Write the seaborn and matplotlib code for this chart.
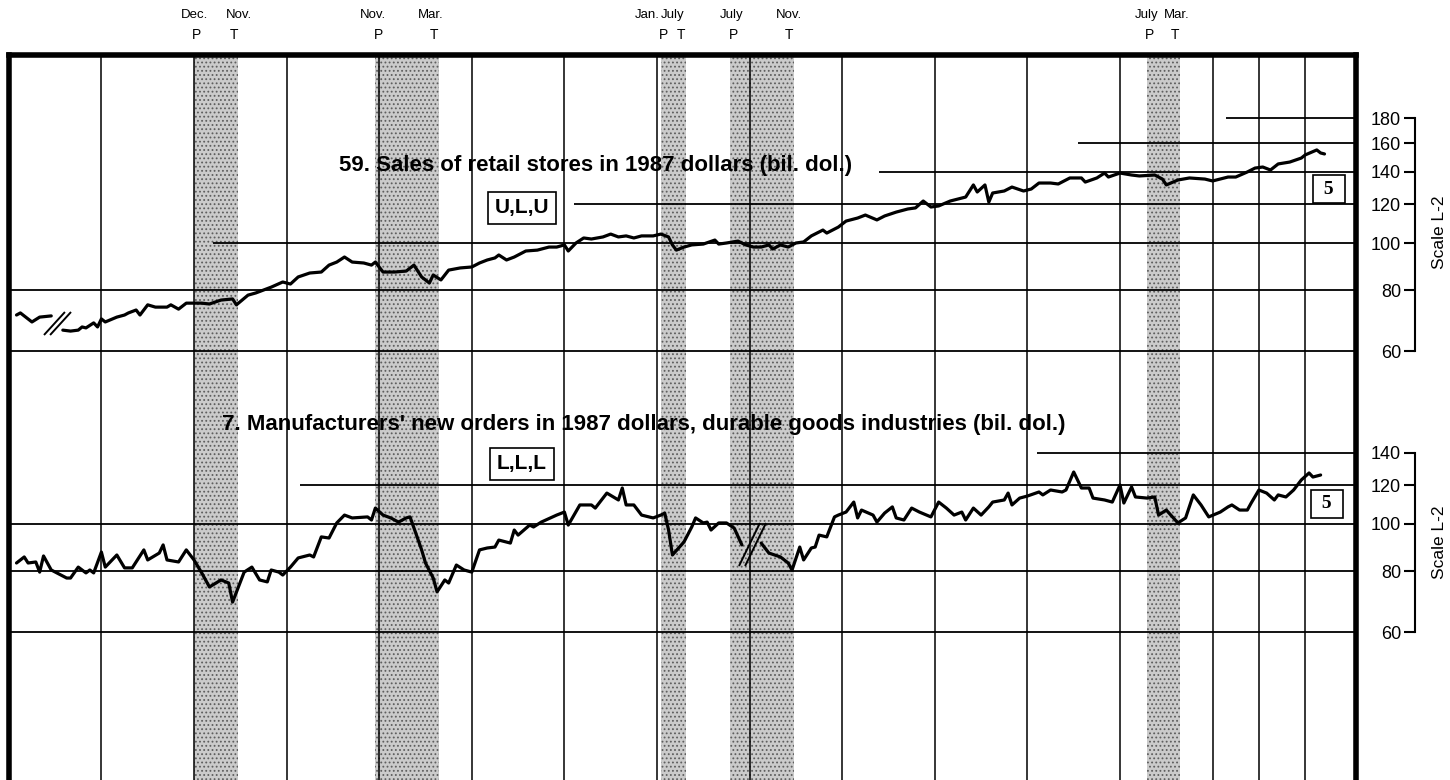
import numpy as np
import pandas as pd
import matplotlib
matplotlib.use("Agg")
import matplotlib.pyplot as plt
from matplotlib.path import Path
from matplotlib.transforms import blended_transform_factory
from matplotlib.ticker import FixedLocator, NullLocator, FixedFormatter
import seaborn as sns

# --- series 59: sales of retail stores, 1987 dollars (bil. dol.) ---
retail_dates = [
    "1966-03", "1966-04", "1966-07", "1966-09", "1966-12",
    "1967-03", "1967-05", "1967-07", "1967-08", "1967-09", "1967-11", "1967-12",
    "1968-01", "1968-02", "1968-05", "1968-07", "1968-08", "1968-10", "1968-11",
    "1969-01", "1969-03", "1969-06", "1969-07", "1969-09", "1969-11",
    "1970-03", "1970-05", "1970-08", "1970-11", "1970-12",
    "1971-03", "1971-05", "1971-07", "1971-09", "1971-12",
    "1972-02", "1972-04", "1972-07", "1972-10", "1972-12",
    "1973-02", "1973-04", "1973-06", "1973-09", "1973-11", "1973-12",
    "1974-02", "1974-05", "1974-08", "1974-10", "1974-12",
    "1975-02", "1975-03", "1975-05", "1975-07", "1975-10",
    "1976-01", "1976-03", "1976-05", "1976-07", "1976-08", "1976-10", "1976-12",
    "1977-02", "1977-03", "1977-06", "1977-09", "1977-11",
    "1978-01", "1978-02", "1978-04", "1978-06", "1978-08", "1978-11",
    "1979-01", "1979-03", "1979-05", "1979-07", "1979-09", "1979-12",
    "1980-02", "1980-04", "1980-05", "1980-06", "1980-08", "1980-10",
    "1981-01", "1981-04", "1981-05", "1981-07", "1981-10", "1981-12",
    "1982-02", "1982-04", "1982-06", "1982-07", "1982-09", "1982-11",
    "1983-01", "1983-03", "1983-05", "1983-08", "1983-09", "1983-12",
    "1984-02", "1984-05", "1984-07", "1984-10", "1984-12",
    "1985-03", "1985-06", "1985-08", "1985-10", "1985-12",
    "1986-02", "1986-05", "1986-08", "1986-09", "1986-11", "1986-12",
    "1987-02", "1987-03", "1987-04", "1987-07", "1987-09", "1987-12",
    "1988-02", "1988-04", "1988-07", "1988-09", "1988-12",
    "1989-03", "1989-04", "1989-07", "1989-09", "1989-10",
    "1990-01", "1990-04", "1990-06", "1990-10", "1990-12",
    "1991-01", "1991-04", "1991-07", "1991-11",
    "1992-01", "1992-05", "1992-07", "1992-10", "1992-12",
    "1993-02", "1993-04", "1993-06", "1993-09", "1993-12",
    "1994-01", "1994-04", "1994-05", "1994-06",
]
retail_values = [
    71.2, 71.9, 68.9, 70.5, 70.9,
    66.3, 66.0, 66.3, 67.3, 67.0, 68.6, 67.3,
    69.9, 68.9, 70.5, 71.2, 71.9, 72.9, 71.2,
    74.7, 73.9, 73.9, 74.7, 73.2, 75.3,
    75.3, 75.0, 76.4, 76.8, 74.7,
    78.2, 79.0, 80.1, 81.2, 83.2,
    82.4, 85.2, 86.8, 87.2, 90.1,
    91.4, 93.6, 91.4, 91.0, 90.1, 91.4,
    87.2, 87.2, 87.6, 90.1, 85.2,
    82.8, 86.0, 84.0, 88.0, 88.9,
    89.3, 91.0, 92.3, 93.2, 94.5, 92.3, 93.6,
    95.4, 96.3, 96.7, 98.1, 98.1,
    99.1, 96.3, 100.0, 102.4, 101.9, 102.9,
    104.3, 102.9, 103.4, 102.4, 103.4, 103.4,
    104.3, 102.9, 99.1, 96.7, 98.1, 99.1,
    99.5, 101.4, 99.5, 100.0, 100.9, 99.1,
    98.1, 98.1, 99.1, 97.2, 99.1, 98.1,
    100.0, 100.5, 103.4, 106.3, 104.8, 107.8,
    110.9, 112.5, 114.1, 111.5, 113.6,
    115.7, 117.4, 118.0, 121.9, 118.5,
    119.1, 121.9, 123.6, 124.2, 131.5, 127.2,
    131.5, 121.3, 126.6, 127.8, 130.2, 127.8,
    129.0, 132.7, 132.7, 132.1, 135.9,
    135.9, 133.3, 135.9, 139.1, 136.5,
    139.1, 137.8, 137.2, 137.8, 135.2,
    131.5, 134.6, 135.9, 135.2,
    134.0, 136.5, 136.5, 139.8, 142.4,
    143.1, 141.1, 145.2, 146.5, 149.3,
    151.5, 155.1, 152.9, 152.2,
]
retail_break = "1967-03"   # first month after the series break

# --- series 7: manufacturers' new orders, durable goods, 1987 dollars ---
orders_dates = [
    "1966-03", "1966-05", "1966-06", "1966-08", "1966-09", "1966-10", "1966-12",
    "1967-04", "1967-05", "1967-07", "1967-09", "1967-10", "1967-11",
    "1968-01", "1968-02", "1968-05", "1968-07", "1968-09", "1968-12",
    "1969-01", "1969-04", "1969-05", "1969-06", "1969-09", "1969-11",
    "1970-01", "1970-03", "1970-05", "1970-08", "1970-10", "1970-11",
    "1971-02", "1971-04", "1971-06", "1971-08", "1971-09", "1971-11", "1971-12",
    "1972-02", "1972-04", "1972-07", "1972-08", "1972-10", "1972-12",
    "1973-02", "1973-04", "1973-06", "1973-10", "1973-11", "1973-12",
    "1974-02", "1974-04", "1974-06", "1974-08", "1974-09", "1974-12",
    "1975-01", "1975-03", "1975-04", "1975-06", "1975-07", "1975-09", "1975-11",
    "1976-01", "1976-03", "1976-05", "1976-07", "1976-08", "1976-11", "1976-12",
    "1977-01", "1977-04", "1977-05", "1977-07", "1977-11",
    "1978-01", "1978-02", "1978-05", "1978-08", "1978-09", "1978-12",
    "1979-03", "1979-04", "1979-05", "1979-07", "1979-09", "1979-12",
    "1980-02", "1980-03", "1980-04", "1980-05", "1980-08", "1980-10", "1980-11",
    "1981-01", "1981-02", "1981-03", "1981-05", "1981-07", "1981-09", "1981-11",
    "1982-04", "1982-06", "1982-09", "1982-11", "1982-12",
    "1983-02", "1983-03", "1983-05", "1983-06", "1983-07", "1983-09", "1983-11", "1983-12",
    "1984-02", "1984-04", "1984-05", "1984-06", "1984-09", "1984-10", "1984-12",
    "1985-02", "1985-03", "1985-05", "1985-07", "1985-09", "1985-12",
    "1986-02", "1986-04", "1986-06", "1986-08", "1986-09", "1986-11",
    "1987-01", "1987-03", "1987-04", "1987-07", "1987-08", "1987-09", "1987-11",
    "1988-01", "1988-04", "1988-05", "1988-07", "1988-10", "1988-11",
    "1989-01", "1989-03", "1989-05", "1989-06", "1989-09", "1989-11",
    "1990-01", "1990-02", "1990-04", "1990-05", "1990-08", "1990-10", "1990-11",
    "1991-01", "1991-04", "1991-06", "1991-08", "1991-10", "1991-12",
    "1992-03", "1992-05", "1992-06", "1992-08", "1992-10", "1992-11",
    "1993-01", "1993-03", "1993-05", "1993-06", "1993-08", "1993-10", "1993-12",
    "1994-02", "1994-03", "1994-05",
]
orders_values = [
    83.2, 85.6, 83.2, 83.6, 79.7, 86.0, 80.5,
    77.5, 77.5, 81.6, 79.4, 80.5, 79.4,
    87.6, 81.6, 86.4, 81.3, 81.3, 88.5,
    84.4, 87.2, 90.6, 84.4, 83.6, 88.5,
    84.4, 79.4, 74.3, 76.8, 75.7, 69.2,
    79.7, 81.6, 76.8, 76.1, 80.5, 79.7, 78.6,
    81.6, 85.2, 86.4, 85.6, 94.1, 93.6,
    100.5, 104.3, 102.9, 103.4, 101.9, 107.8,
    104.3, 102.9, 100.9, 102.9, 103.4, 88.5,
    83.2, 77.5, 72.6, 76.8, 75.7, 82.4, 80.5,
    79.7, 88.5, 89.3, 89.7, 92.7, 91.4, 97.2,
    94.9, 99.5, 98.6, 100.9, 104.3,
    105.8, 99.5, 109.4, 109.4, 107.8, 115.7,
    112.0, 118.5, 109.4, 109.4, 104.3, 102.9,
    104.3, 105.3, 97.2, 86.4, 91.9, 98.6, 102.9,
    100.5, 100.9, 97.2, 100.5, 100.5, 98.1, 90.6,
    91.4, 87.2, 85.6, 83.2, 80.5,
    89.7, 84.4, 89.3, 89.7, 94.9, 94.1, 103.4, 104.3,
    105.8, 110.9, 102.9, 106.8, 104.3, 100.9, 105.3,
    108.4, 102.9, 101.9, 107.8, 105.8, 103.4,
    110.9, 107.8, 104.3, 105.8, 101.9, 107.8,
    104.3, 108.4, 110.9, 112.0, 115.7, 109.4, 113.0,
    114.1, 116.3, 114.7, 117.4, 116.3, 117.4,
    127.8, 118.5, 118.5, 113.0, 112.0, 110.9,
    120.2, 110.4, 119.1, 113.6, 113.0, 113.6, 104.3,
    106.8, 100.5, 102.9, 114.7, 109.4, 103.4,
    105.8, 108.4, 109.4, 106.8, 106.8, 110.4,
    117.4, 115.7, 112.0, 114.7, 113.6, 117.4, 123.1,
    127.2, 124.8, 126.0,
]
orders_break = "1982-04"

# business cycle peaks (P) and troughs (T)
peaks = ["1969-12", "1973-11", "1980-01", "1981-07", "1990-07"]
troughs = ["1970-11", "1975-03", "1980-07", "1982-11", "1991-03"]
peak_names = ["Dec.", "Nov.", "Jan.", "July", "July"]
trough_names = ["Nov.", "Mar.", "July", "Nov.", "Mar."]

year_lines = [1968, 1970, 1972, 1974, 1976, 1978, 1980, 1982, 1984,
              1986, 1988, 1990, 1992, 1993, 1994]

retail_ticks = [60, 80, 100, 120, 140, 160, 180]
retail_grid_from = [1966, 1966, 1970.4, 1978.2, 1984.8, 1989.1, 1992.3]
orders_ticks = [60, 80, 100, 120, 140]
orders_grid_from = [1966, 1966, 1966, 1972.3, 1988.2]


def to_year(s):
    y, m = s.split("-")
    return int(y) + (int(m) - 1) / 12


def series_frame(dates, values, brk):
    df = pd.DataFrame({"t": [to_year(d) for d in dates], "v": values})
    df["seg"] = (df["t"] >= to_year(brk)).astype(int)
    return df


retail = series_frame(retail_dates, retail_values, retail_break)
orders = series_frame(orders_dates, orders_values, orders_break)

# layout (pixels of a 1450x780 canvas)
W, H = 1450, 780
X0, X1 = 1966.0, 1995.1
PX_YEAR = 46.3
left_px = 194 - (1970 - X0) * PX_YEAR
right_px = 194 + (X1 - 1970) * PX_YEAR
TOP_PX = 55
PX_LN = 212.0
# small horizontal shifts (px) of month names so neighbours do not collide
peak_nudge_px = [-2, -5, -16, -1, -3]
trough_nudge_px = [5, -4, -9, 0, 2]


def ylims(y100):
    return (100 * np.exp((y100 - H) / PX_LN), 100 * np.exp((y100 - TOP_PX) / PX_LN))


sns.set_style("white")
plt.rcParams["font.family"] = ["Liberation Sans", "DejaVu Sans"]
plt.rcParams["text.color"] = "black"
plt.rcParams["ytick.color"] = "black"
plt.rcParams["hatch.linewidth"] = 0.8

fig = plt.figure(figsize=(W / 100, H / 100), dpi=100)
rect = [left_px / W, 0, (right_px - left_px) / W, (H - TOP_PX) / H]

# frame, recession shading, year lines
fr = fig.add_axes(rect)
fr.set_xlim(X0, X1)
fr.set_ylim(0, 1)
fr.set_xticks([])
fr.set_yticks([])
for side in ["left", "top", "right"]:
    fr.spines[side].set_linewidth(4)
    fr.spines[side].set_color("black")
fr.spines["bottom"].set_visible(False)
for p, t in zip(peaks, troughs):
    fr.axvspan(to_year(p) + 1 / 12, to_year(t) + 1 / 8, facecolor="#cbcbcb",
               edgecolor="#5e5e5e", hatch="....", lw=0, zorder=0)
for yr in year_lines:
    fr.axvline(yr, color="black", lw=1.1, zorder=1)

# recession labels above the frame
tr = blended_transform_factory(fr.transData, fig.transFigure)
for p, t, pn, tn, pnd, tnd in zip(peaks, troughs, peak_names, trough_names,
                                  peak_nudge_px, trough_nudge_px):
    xp = to_year(p) + 1 / 12 + 0.06
    xt = to_year(t) + 1 / 8 - 0.1
    fr.text(xp + pnd / PX_YEAR, 1 - 15 / H, pn, transform=tr, ha="center", va="center", fontsize=9.5)
    fr.text(xt + tnd / PX_YEAR, 1 - 15 / H, tn, transform=tr, ha="center", va="center", fontsize=9.5)
    fr.text(xp, 1 - 35 / H, "P", transform=tr, ha="center", va="center", fontsize=10)
    fr.text(xt, 1 - 35 / H, "T", transform=tr, ha="center", va="center", fontsize=10)


def break_mark(h):
    w = 13.5
    verts = [(-w, -h), (w * 0.55, h), (-w * 0.55, -h), (w, h)]
    codes = [Path.MOVETO, Path.LINETO, Path.MOVETO, Path.LINETO]
    return Path(verts, codes)


def draw_panel(df, y100, ticks, grid_from, mark_h, scale_label_y):
    ax = fig.add_axes(rect)
    ax.set_yscale("log")
    ax.set_xlim(X0, X1)
    ax.set_ylim(*ylims(y100))
    for v, x0 in zip(ticks, grid_from):
        ax.hlines(v, x0, X1, color="black", lw=1.3, zorder=1)
    sns.lineplot(data=df, x="t", y="v", units="seg", estimator=None,
                 color="black", lw=2.3, ax=ax, legend=False, zorder=3)
    pre = df[df["seg"] == 0].iloc[-1]
    post = df[df["seg"] == 1].iloc[0]
    ax.plot([(pre.t + post.t) / 2], [np.sqrt(pre.v * post.v)],
            marker=break_mark(mark_h), ms=2 * max(13.5, mark_h) * 0.72,
            mfc="none", mec="black", mew=1.4, ls="none", zorder=4)
    ax.set_axis_off()

    sc = fig.add_axes([1415 / W, 0, 0.0005, (H - TOP_PX) / H])
    sc.set_yscale("log")
    sc.set_ylim(*ylims(y100))
    for side in ["top", "bottom", "right"]:
        sc.spines[side].set_visible(False)
    sc.spines["left"].set_bounds(ticks[0], ticks[-1])
    sc.spines["left"].set_linewidth(1.5)
    sc.spines["left"].set_color("black")
    sc.patch.set_alpha(0)
    sc.set_xticks([])
    sc.yaxis.set_major_locator(FixedLocator(ticks))
    sc.yaxis.set_major_formatter(FixedFormatter([str(t) for t in ticks]))
    sc.yaxis.set_minor_locator(NullLocator())
    sc.tick_params(axis="y", direction="out", length=8, width=1.5,
                   labelsize=13, pad=2, left=True, labelleft=True)
    fig.text(1440 / W, 1 - scale_label_y / H, "Scale L-2", rotation=90,
             ha="center", va="center", fontsize=12.5)
    return ax


draw_panel(retail, 243, retail_ticks, retail_grid_from, 11.5, 232)
draw_panel(orders, 524, orders_ticks, orders_grid_from, 21.5, 542)

# series titles and timing boxes
fig.text(596 / W, 1 - 165 / H, "59. Sales of retail stores in 1987 dollars (bil. dol.)",
         ha="center", va="center", fontsize=16, fontweight="bold")
fig.text(644 / W, 1 - 425 / H,
         "7. Manufacturers' new orders in 1987 dollars, durable goods industries (bil. dol.)",
         ha="center", va="center", fontsize=16, fontweight="bold")
box = dict(boxstyle="square,pad=0.32", fc="white", ec="black", lw=1.2)
fig.text(522 / W, 1 - 208 / H, "U,L,U", ha="center", va="center", fontsize=15,
         fontweight="bold", bbox=box)
fig.text(522 / W, 1 - 464 / H, "L,L,L", ha="center", va="center", fontsize=15,
         fontweight="bold", bbox=box)
box5 = dict(boxstyle="square,pad=0.3", fc="white", ec="black", lw=1.2)
fig.text(1329 / W, 1 - 189 / H, " 5 ", ha="center", va="center", fontsize=14,
         fontweight="bold", family=["Liberation Serif", "DejaVu Serif"], bbox=box5)
fig.text(1327 / W, 1 - 504 / H, " 5 ", ha="center", va="center", fontsize=14,
         fontweight="bold", family=["Liberation Serif", "DejaVu Serif"], bbox=box5)

fig.savefig("out.png", dpi=100, facecolor="white")
